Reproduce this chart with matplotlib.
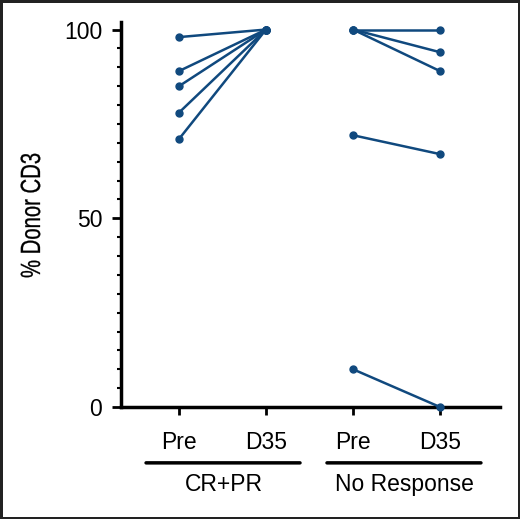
import matplotlib
matplotlib.use("Agg")
import matplotlib.pyplot as plt
from matplotlib.ticker import MultipleLocator
from matplotlib import patheffects
from matplotlib.transforms import Affine2D

# Data
tick_labels = ["Pre", "D35", "Pre", "D35"]
group_labels = ["CR+PR", "No Response"]
crpr_pre = [98, 89, 85, 78, 71]
crpr_d35 = [100, 100, 100, 100, 100]
nr_pre = [100, 100, 100, 72, 10]
nr_d35 = [100, 94, 89, 67, 0]
y_ticks = [0, 50, 100]
y_label = "% Donor CD3"

color = "#10497e"
plt.rcParams['font.family'] = ['Liberation Sans', 'DejaVu Sans']


class Squeeze(patheffects.AbstractPathEffect):
    """Draw text glyphs compressed along the text direction (condensed look)."""
    def __init__(self, sx, stroke=0.0):
        super().__init__()
        self.sx = sx
        self.stroke = stroke

    def draw_path(self, renderer, gc, tpath, affine, rgbFace=None):
        gc0 = renderer.new_gc()
        gc0.copy_properties(gc)
        if self.stroke > 0 and rgbFace is not None:
            gc0.set_linewidth(self.stroke)
            gc0.set_foreground(rgbFace)
        renderer.draw_path(gc0, tpath, Affine2D().scale(self.sx, 1) + affine, rgbFace)
        gc0.restore()


W, H = 520, 519
fig = plt.figure(figsize=(W / 100, H / 100), dpi=100)
fig.patch.set_edgecolor("#222222")
fig.patch.set_linewidth(2.5)
ax = fig.add_axes([121 / W, 1 - 407 / H, (500 - 121) / W, (407 - 22) / H])

for a, b in zip(crpr_pre, crpr_d35):
    ax.plot([0, 1], [a, b], color=color, lw=1.8, marker="o", ms=5, clip_on=False, zorder=3)
for a, b in zip(nr_pre, nr_d35):
    ax.plot([2, 3], [a, b], color=color, lw=1.8, marker="o", ms=5, clip_on=False, zorder=3)

ax.set_xlim(-0.667, 3.69)
ax.set_ylim(0, 102)
ax.set_yticks(y_ticks)
ax.yaxis.set_minor_locator(MultipleLocator(5))
ax.set_xticks(range(4))
ax.set_xticklabels(tick_labels, fontsize=16.5)
ax.tick_params(axis='y', which='major', length=6.5, width=2, labelsize=16.5, pad=7)
ax.tick_params(axis='y', which='minor', length=3.2, width=1.5)
ax.tick_params(axis='x', which='major', direction='out', length=6, width=2, pad=11)
for s in ["top", "right"]:
    ax.spines[s].set_visible(False)
for s in ["left", "bottom"]:
    ax.spines[s].set_linewidth(2.5)

# y label (condensed)
fig.text(33 / W, 1 - 278 / H, y_label, rotation=90, ha='center', va='bottom',
         fontsize=20, path_effects=[Squeeze(0.73, stroke=0.2)])

# group underlines and labels
line_spans = [(-0.379, 1.391), (1.701, 3.471)]
label_x = [0.51, 2.586]
for (x0, x1), lx, g in zip(line_spans, label_x, group_labels):
    ax.annotate("", xy=(x0, -14.8), xytext=(x1, -14.8),
                arrowprops=dict(arrowstyle='-', lw=2.5, color='black', shrinkA=0, shrinkB=0),
                annotation_clip=False)
    ax.text(lx, -20.6, g, ha='center', va='center', fontsize=16.5, clip_on=False)

fig.savefig("out.png", dpi=100)
